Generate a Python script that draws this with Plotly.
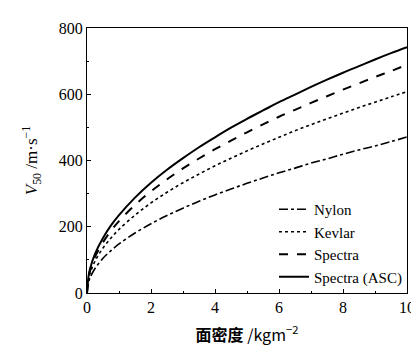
import plotly.graph_objects as go

areal_density = [0, 0.05, 0.1, 0.25, 0.5, 0.75, 1, 1.5, 2, 2.5, 3, 3.5, 4, 4.5, 5,
                 5.5, 6, 6.5, 7, 7.5, 8, 8.5, 9, 9.5, 10]
v_nylon = [0, 33, 47, 74, 105, 128, 148, 181, 209, 234, 256, 277, 296, 314, 331,
           347, 363, 377, 392, 405, 419, 432, 444, 457, 471]
v_kevlar = [0, 43, 61, 96, 136, 166, 192, 235, 272, 304, 333, 359, 384, 407, 429,
            450, 470, 490, 508, 526, 543, 560, 576, 592, 608]
v_spectra = [0, 48, 69, 109, 153, 188, 217, 266, 307, 343, 376, 406, 434, 460, 485,
             509, 532, 553, 574, 594, 614, 633, 652, 670, 689]
v_spectra_asc = [0, 52, 75, 118, 166, 204, 235, 288, 333, 372, 407, 440, 470, 499, 526,
                 551, 576, 599, 622, 644, 665, 685, 705, 724, 742]

series = [
    ("Nylon", v_nylon, "dashdot", 1.6),
    ("Kevlar", v_kevlar, "dot", 1.6),
    ("Spectra", v_spectra, "dash", 2.0),
    ("Spectra (ASC)", v_spectra_asc, "solid", 2.0),
]

fig = go.Figure()
for name, ys, dash, w in series:
    fig.add_trace(go.Scatter(x=areal_density, y=ys, mode="lines", name=name,
                             line=dict(color="black", dash=dash, width=w, shape="spline")))

serif = "Liberation Serif"
axis_common = dict(showline=True, linecolor="black", linewidth=1.2, mirror=True,
                   ticks="inside", ticklen=4, tickcolor="black", showgrid=False, zeroline=False,
                   tickfont=dict(family=serif, size=16, color="black"))

fig.update_layout(
    width=419, height=346,
    margin=dict(l=79, r=12, t=20, b=61),
    paper_bgcolor="white", plot_bgcolor="white",
    showlegend=True,
    legend=dict(x=1.0, y=0.0, xanchor="right", yanchor="bottom", bgcolor="rgba(0,0,0,0)",
                font=dict(family=serif, size=15, color="black"), tracegroupgap=0,
                itemwidth=30),
    xaxis=dict(range=[0, 10], tickvals=[0, 2, 4, 6, 8, 10],
               minor=dict(ticks="inside", ticklen=2, tickvals=[1, 3, 5, 7, 9], tickcolor="black"),
               title=dict(text="<b>面密度</b> /kgm<sup>−2</sup>",
                          font=dict(family="Noto Sans CJK SC, " + serif, size=16, color="black"),
                          standoff=14),
               **axis_common),
    yaxis=dict(range=[0, 800], tickvals=[0, 200, 400, 600, 800],
               minor=dict(ticks="inside", ticklen=2, tickvals=[100, 300, 500, 700], tickcolor="black"),
               title=dict(text="<i>V</i><sub>50</sub> /m·s<sup>−1</sup>",
                          font=dict(family=serif, size=17, color="black"), standoff=16),
               **axis_common),
)

fig.write_html("out.html")
